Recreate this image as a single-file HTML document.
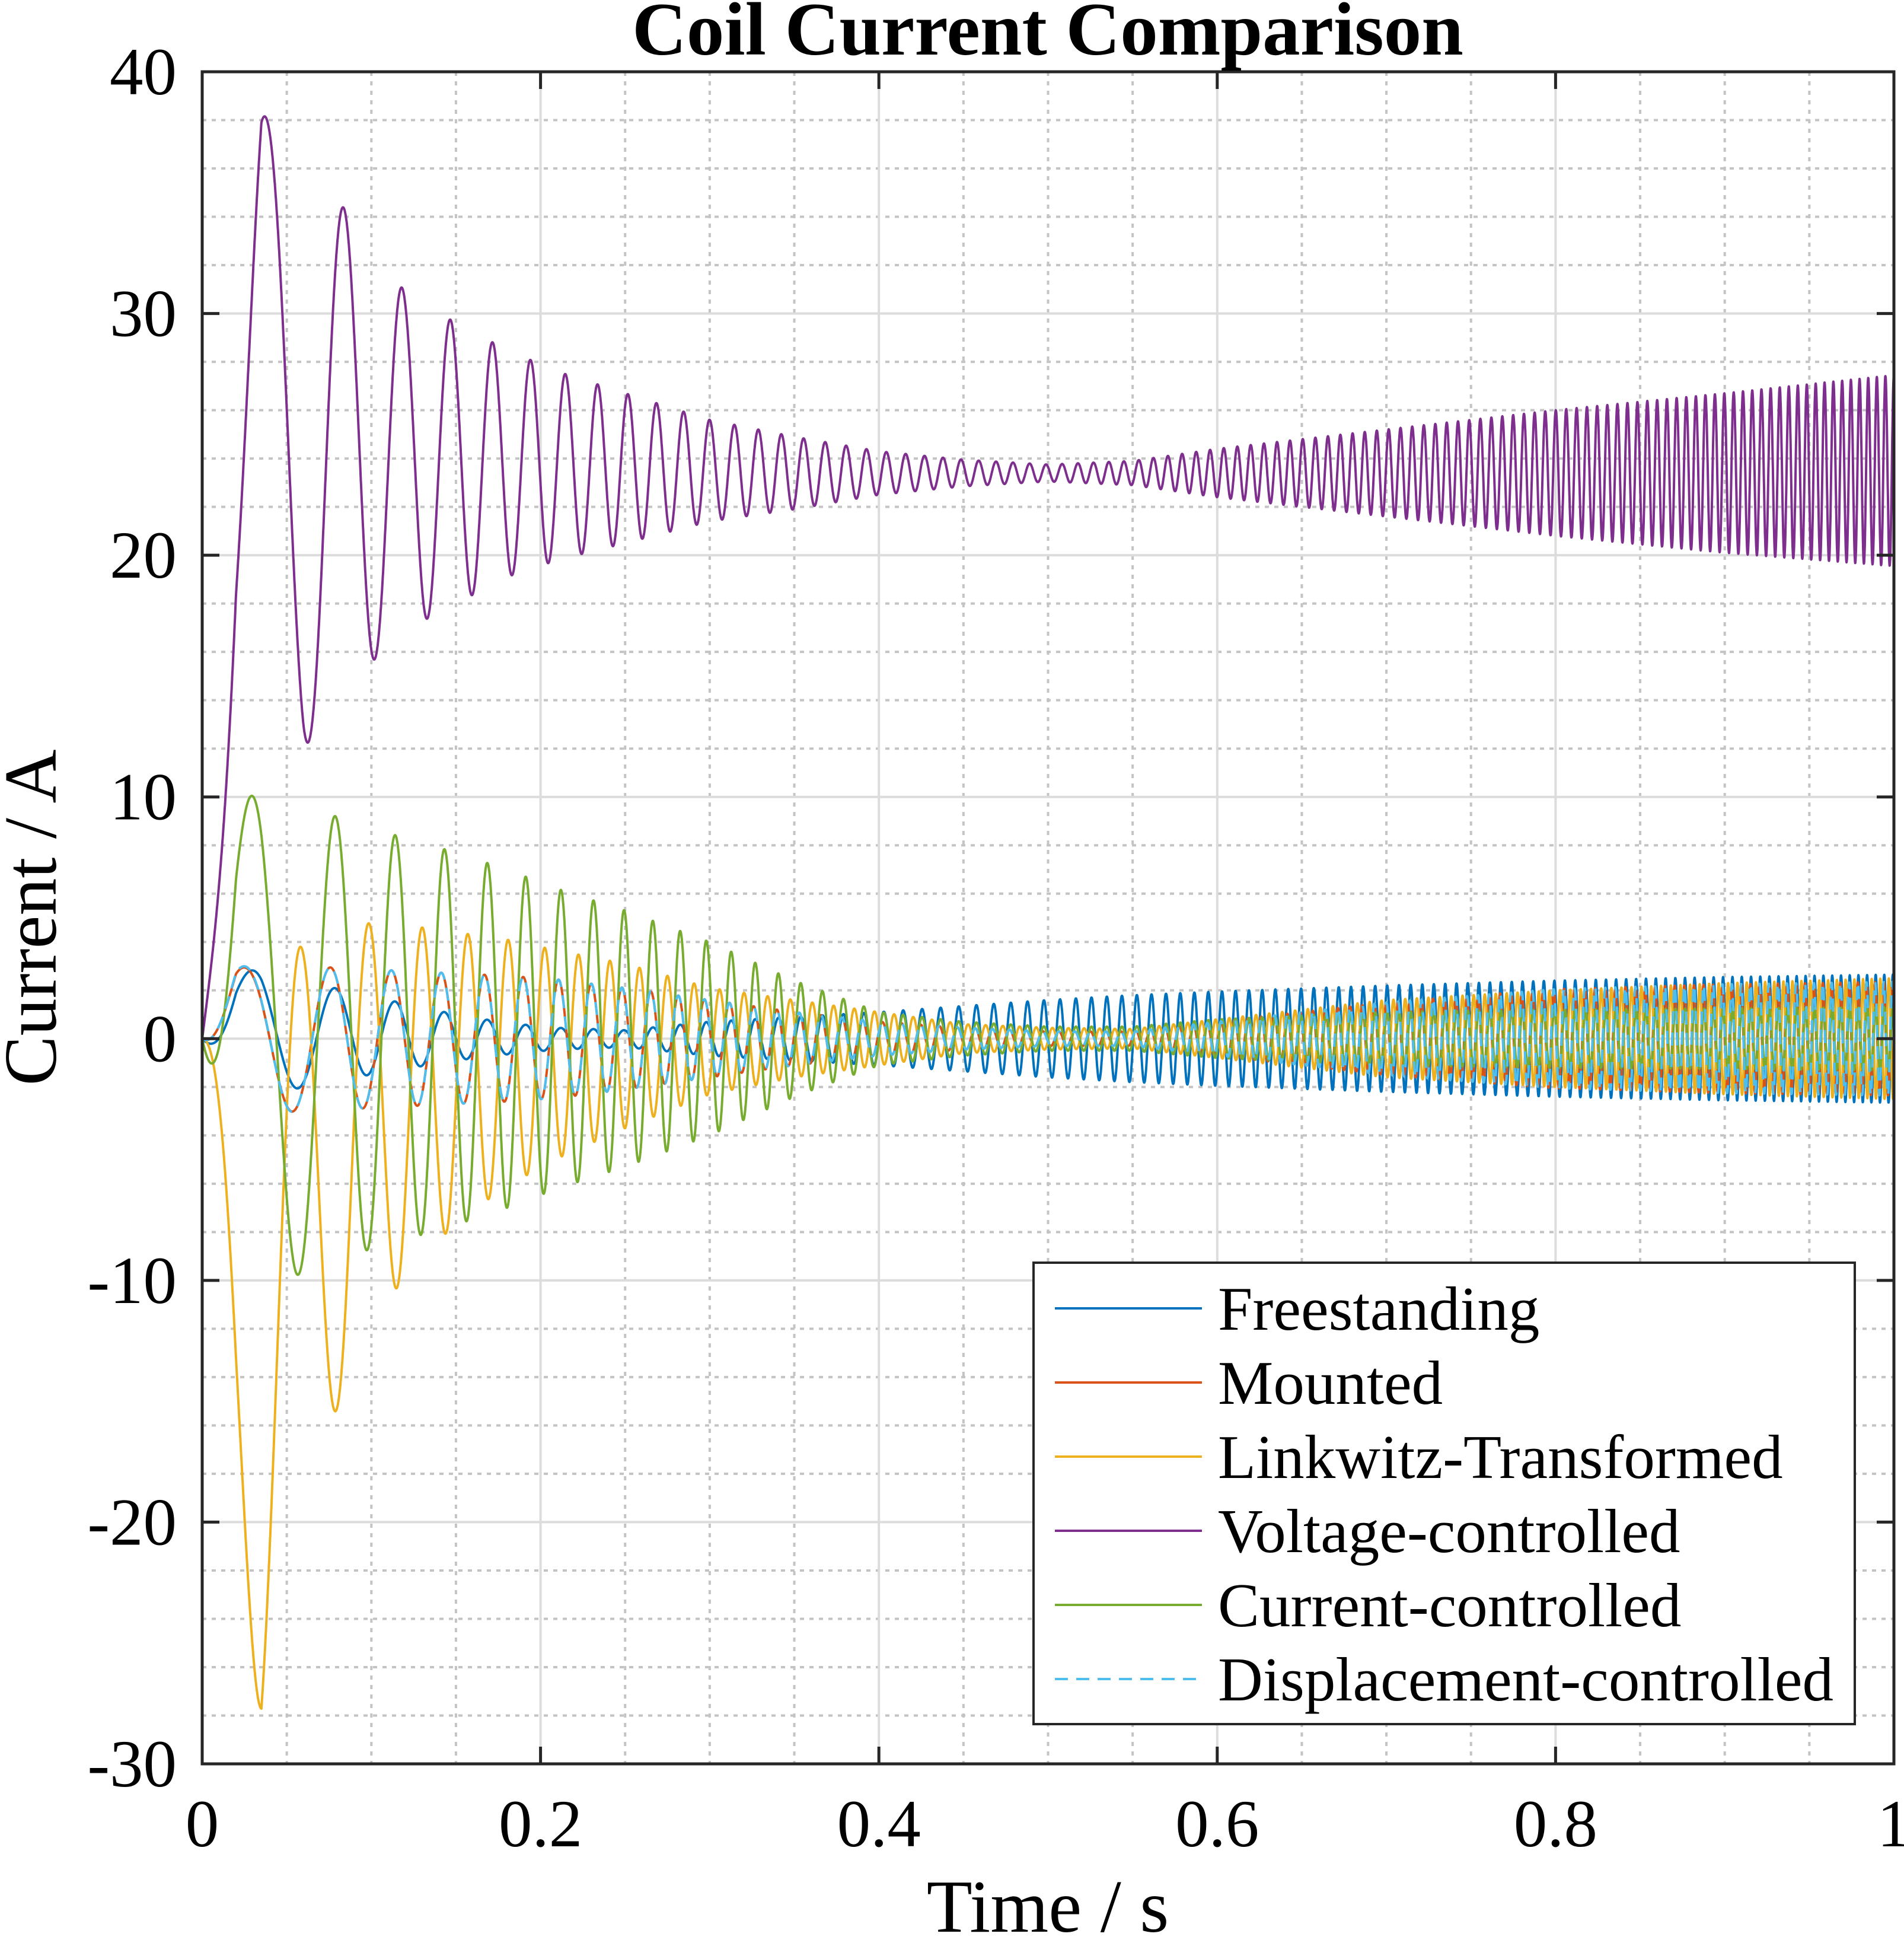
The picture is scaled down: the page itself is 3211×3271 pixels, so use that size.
<!DOCTYPE html>
<html><head><meta charset="utf-8"><style>
html,body{margin:0;padding:0;background:#fff}
svg{display:block}
text{font-family:"Liberation Serif","Times New Roman",serif;fill:#000}
</style></head><body>
<svg id="chart" width="3211" height="3271" viewBox="0 0 3211 3271" xmlns="http://www.w3.org/2000/svg">
<rect x="0" y="0" width="3211" height="3271" fill="#fff"/>
<g id="grid"></g>
<g id="series"></g>
<g id="axes"></g>
<text x="1767" y="92" font-size="127" font-weight="bold" text-anchor="middle">Coil Current Comparison</text>
<text x="1767" y="3257" font-size="126" text-anchor="middle">Time / s</text>
<text x="0" y="0" font-size="126" text-anchor="middle" transform="translate(94,1547) rotate(-90)">Current / A</text>
<g id="legend"></g>
</svg>
<script>
// ---- data ----
const knots = [0,0.02,0.035,0.06,0.09,0.12,0.15,0.18,0.21,0.25,0.3,0.35,0.4,0.45,0.5,0.55,0.6,0.7,0.8,0.9,1.0];
const chirpStartHz = 10;
const chirpRateHz = 189;
const seriesNames = ["Freestanding","Mounted","Linkwitz-Transformed","Voltage-controlled","Current-controlled","Displacement-controlled"];
const freeAmp  = [0,2.5,2.65,2.2,1.75,1.35,0.95,0.65,0.45,0.35,0.7,0.9,1.1,1.35,1.6,1.8,1.95,2.2,2.4,2.55,2.65];
const freeMean = [0,0.2,0.25,0.2,0.15,0.1,0.05,0,0,0,0,0,0,0,0,0,0,0,0,0,0];
const mountAmp  = [0,2.9,3.05,3.0,2.9,2.8,2.7,2.6,2.45,2.1,1.6,1.1,0.7,0.45,0.3,0.3,0.7,1.5,2.05,2.25,2.35];
const mountMean = [0,0,0,0,0,0,0,0,0,0,0,0,0,0,0,0,0,0,0,0,0];
const linkAmp  = [0,10,16.45,12.3,8.6,7.3,6.0,5.1,4.3,3.4,2.2,1.6,1.1,0.6,0.45,0.4,0.8,1.6,2.0,2.3,2.5];
const linkMean = [0,-8,-12.65,-8.5,-3.8,-2.6,-1.6,-1.0,-0.65,-0.3,-0.1,0,0,0,0,0,0,0,0,0,0];
const voltAmp  = [0,8,13.1,12.8,9.3,7.0,5.8,4.7,3.9,3.1,2.1,1.5,0.9,0.55,0.35,0.5,1.0,1.8,2.6,3.3,3.95];
const voltMean = [0,19,25.1,24.8,24.2,23.9,23.8,23.8,23.7,23.6,23.5,23.4,23.4,23.4,23.4,23.4,23.4,23.4,23.4,23.4,23.5];
const currAmp  = [0,9.8,10.2,9.7,8.9,8.3,7.7,7.0,6.2,5.3,4.0,2.4,1.1,0.7,0.5,0.5,0.8,1.1,1.2,1.25,1.3];
const currMean = [0,0,0,0,0,0,0,0,0,0,0,0,0,0,0,0,0,0,0,0,0];
const dispAmp  = [0,2.95,3.1,3.0,2.9,2.8,2.7,2.6,2.45,2.1,1.6,1.1,0.7,0.45,0.3,0.3,0.7,1.5,2.05,2.25,2.35];
const dispMean = [0,0,0,0,0,0,0,0,0,0,0,0,0,0,0,0,0,0,0,0,0];
const phaseLag = [0.12,0.05,0.65,0.25,0.12,0.05];
const xTicks = [0,0.2,0.4,0.6,0.8,1];
const xTickLabels = ["0","0.2","0.4","0.6","0.8","1"];
const yTicks = [-30,-20,-10,0,10,20,30,40];
const yTickLabels = ["-30","-20","-10","0","10","20","30","40"];

// ---- layout ----
const L=341,R=3194,T=121,B=2974;
const xMin=0,xMax=1,yMin=-30,yMax=40;
const xs=v=>L+(v-xMin)/(xMax-xMin)*(R-L);
const ys=v=>B-(v-yMin)/(yMax-yMin)*(B-T);
const NS="http://www.w3.org/2000/svg";
function mk(tag,attrs,parent){const e=document.createElementNS(NS,tag);for(const k in attrs)e.setAttribute(k,attrs[k]);parent.appendChild(e);return e;}
const colors=["#0072BD","#D95319","#EDB120","#7E2F8E","#77AC30","#4DBEEE"];
const amps=[freeAmp,mountAmp,linkAmp,voltAmp,currAmp,dispAmp];
const means=[freeMean,mountMean,linkMean,voltMean,currMean,dispMean];
const keys=["freestanding","mounted","linkwitz-transformed","voltage-controlled","current-controlled","displacement-controlled"];

// grid
const grid=document.getElementById('grid');
for(let i=1;i<20;i++){const v=i*0.05; if(i%4===0)continue;
  const g=mk('line',{x1:xs(v),x2:xs(v),y1:T,y2:B,stroke:"#c4c4c4","stroke-width":4,"stroke-dasharray":"7 9"},grid);
  
  }
for(let v=-28;v<40;v+=2){ if(v%10===0)continue;
  const g=mk('line',{x1:L,x2:R,y1:ys(v),y2:ys(v),stroke:"#c4c4c4","stroke-width":4,"stroke-dasharray":"7 9"},grid);
  
  }
xTicks.forEach(v=>{ if(v===xMin||v===xMax)return;
  const g=mk('line',{x1:xs(v),x2:xs(v),y1:T,y2:B,stroke:"#dcdcdc","stroke-width":4},grid);
  
  });
yTicks.forEach(v=>{ if(v===yMin||v===yMax)return;
  const g=mk('line',{x1:L,x2:R,y1:ys(v),y2:ys(v),stroke:"#dcdcdc","stroke-width":4},grid);
  
  });

// series
function interp(arr,t){for(let i=0;i<knots.length-1;i++){if(t<=knots[i+1]){const f=(t-knots[i])/(knots[i+1]-knots[i]);return arr[i]+f*(arr[i+1]-arr[i]);}}return arr[arr.length-1];}
const sg=document.getElementById('series');
const N=9000;
for(let s=0;s<6;s++){
  let d="";
  for(let i=0;i<=N;i++){const t=i/N;
    const cyc=chirpStartHz*t+chirpRateHz*t*t/2;
    const y=interp(means[s],t)+interp(amps[s],t)*Math.sin(2*Math.PI*(cyc-phaseLag[s]));
    d+=(i?"L":"M")+xs(t).toFixed(1)+" "+ys(y).toFixed(1);}
  const attrs={d:d,fill:"none",stroke:colors[s],"stroke-width":4,"stroke-linejoin":"round"};
  if(s===5)attrs["stroke-dasharray"]="22 14";
  const p=mk('path',attrs,sg);
  
  
}

// axes
const ax=document.getElementById('axes');
const box=mk('rect',{x:L,y:T,width:R-L,height:B-T,fill:"none",stroke:"#262626","stroke-width":5},ax);


xTicks.forEach((v,i)=>{
  mk('line',{x1:xs(v),x2:xs(v),y1:B,y2:B-29,stroke:"#262626","stroke-width":5},ax);
  mk('line',{x1:xs(v),x2:xs(v),y1:T,y2:T+29,stroke:"#262626","stroke-width":5},ax);
  const tx=mk('text',{x:xs(v),y:3113,"font-size":113,"text-anchor":"middle",fill:"#262626"},ax);
  tx.textContent=xTickLabels[i];
  
  
});
yTicks.forEach((v,i)=>{
  mk('line',{x1:L,x2:L+29,y1:ys(v),y2:ys(v),stroke:"#262626","stroke-width":5},ax);
  mk('line',{x1:R,x2:R-29,y1:ys(v),y2:ys(v),stroke:"#262626","stroke-width":5},ax);
  const tx=mk('text',{x:298,y:ys(v)+38,"font-size":113,"text-anchor":"end",fill:"#262626"},ax);
  tx.textContent=yTickLabels[i];
  
  
});

// legend
const lg=document.getElementById('legend');
const lb=mk('rect',{x:1743,y:2129,width:1385,height:778,fill:"#fff",stroke:"#262626","stroke-width":4},lg);


seriesNames.forEach((n,i)=>{
  const yy=2206+i*125;
  const g=mk('g',{},lg);
  
  
  const la={x1:1779,x2:2027,y1:yy,y2:yy,stroke:colors[i],"stroke-width":4};
  if(i===5)la["stroke-dasharray"]="22 14";
  mk('line',la,g);
  const tx=mk('text',{x:2054,y:yy+36,"font-size":105},g);
  tx.textContent=n;
});
</script>
</body></html>
